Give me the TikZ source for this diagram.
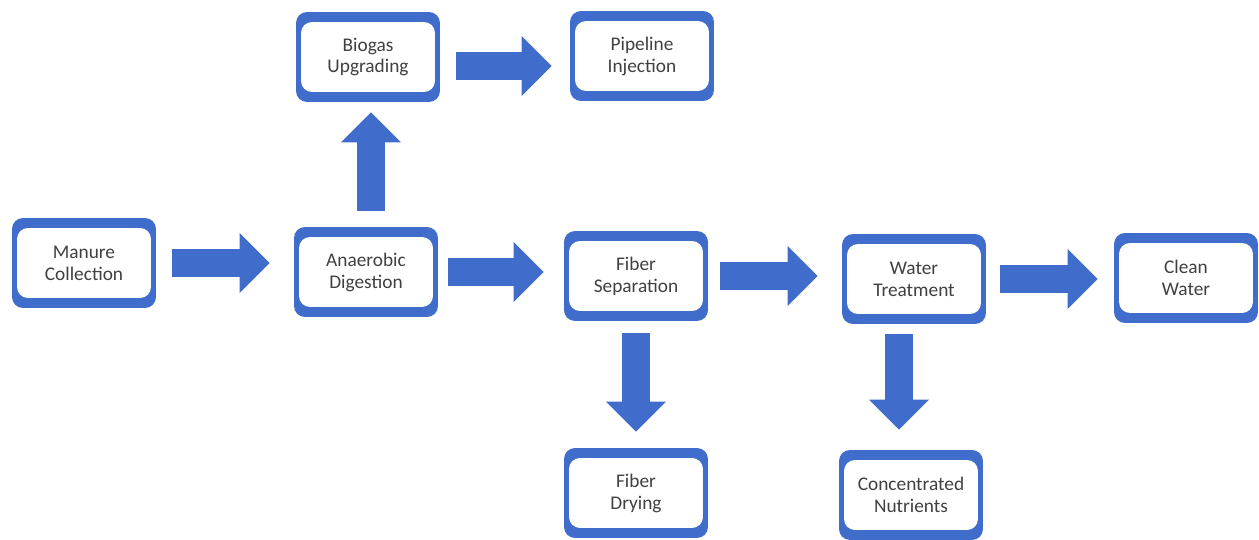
\documentclass[tikz,border=0pt]{standalone}
\usepackage{fontspec}
\setmainfont{Carlito}
\usetikzlibrary{arrows.meta}
\definecolor{stageblue}{RGB}{64,108,204}
\definecolor{stagetext}{RGB}{64,64,64}
\tikzset{
  stage/.style={rectangle, rounded corners=0.22cm, fill=stageblue,
    minimum width=2.88cm, minimum height=1.8cm, inner sep=0pt,
    align=center, text=stagetext,
    font=\fontsize{11}{12.5}\selectfont,
    path picture={\fill[white]
      ([xshift=0.1cm,yshift=-0.2cm]path picture bounding box.north west) rectangle
      ([xshift=-0.1cm,yshift=0.2cm]path picture bounding box.south east);}},
  flow/.style={stageblue, line width=0.56cm,
    -{Triangle[length=0.6cm,width=1.16cm]}}
}
\begin{document}
\begin{tikzpicture}[x=0.02cm,y=-0.02cm]
\useasboundingbox (0,0) rectangle (1259,540);

\node[stage] (mc) at (84,263) {Manure\\Collection};
\node[stage] (ad) at (366,272) {Anaerobic\\Digestion};
\node[stage] (bu) at (368,57) {Biogas\\Upgrading};
\node[stage] (pi) at (642,56) {Pipeline\\Injection};
\node[stage] (fs) at (636,276) {Fiber\\Separation};
\node[stage] (wt) at (914,279) {Water\\Treatment};
\node[stage] (cw) at (1186,278) {Clean\\Water};
\node[stage] (fd) at (636,493) {Fiber\\Drying};
\node[stage] (cn) at (911,495) {Concentrated\\Nutrients};

% main line
\draw[flow, shorten <=0.32cm, shorten >=0.48cm] (mc.east) -- (mc.east -| ad.west);
\draw[flow, shorten <=0.2cm, shorten >=0.4cm] (ad.east) -- (ad.east -| fs.west);
\draw[flow, shorten <=0.24cm, shorten >=0.48cm] (fs.east) -- (fs.east -| wt.west);
\draw[flow, shorten <=0.28cm, shorten >=0.32cm] (wt.east) -- (wt.east -| cw.west);

% gas branch
\draw[flow, shorten <=0.32cm, shorten >=0.2cm] ([xshift=0.1cm]ad.north) -- ([xshift=0.1cm]ad.north |- bu.south);
\draw[flow, shorten <=0.32cm, shorten >=0.36cm] ([yshift=-0.18cm]bu.east) -- ([yshift=-0.18cm]bu.east -| pi.west);

% solids and nutrients
\draw[flow, shorten <=0.24cm, shorten >=0.32cm] (fs.south) -- (fs.south |- fd.north);
\draw[flow, shorten <=0.2cm, shorten >=0.4cm] ([xshift=-0.3cm]wt.south) -- ([xshift=-0.3cm]wt.south |- cn.north);
\end{tikzpicture}
\end{document}
